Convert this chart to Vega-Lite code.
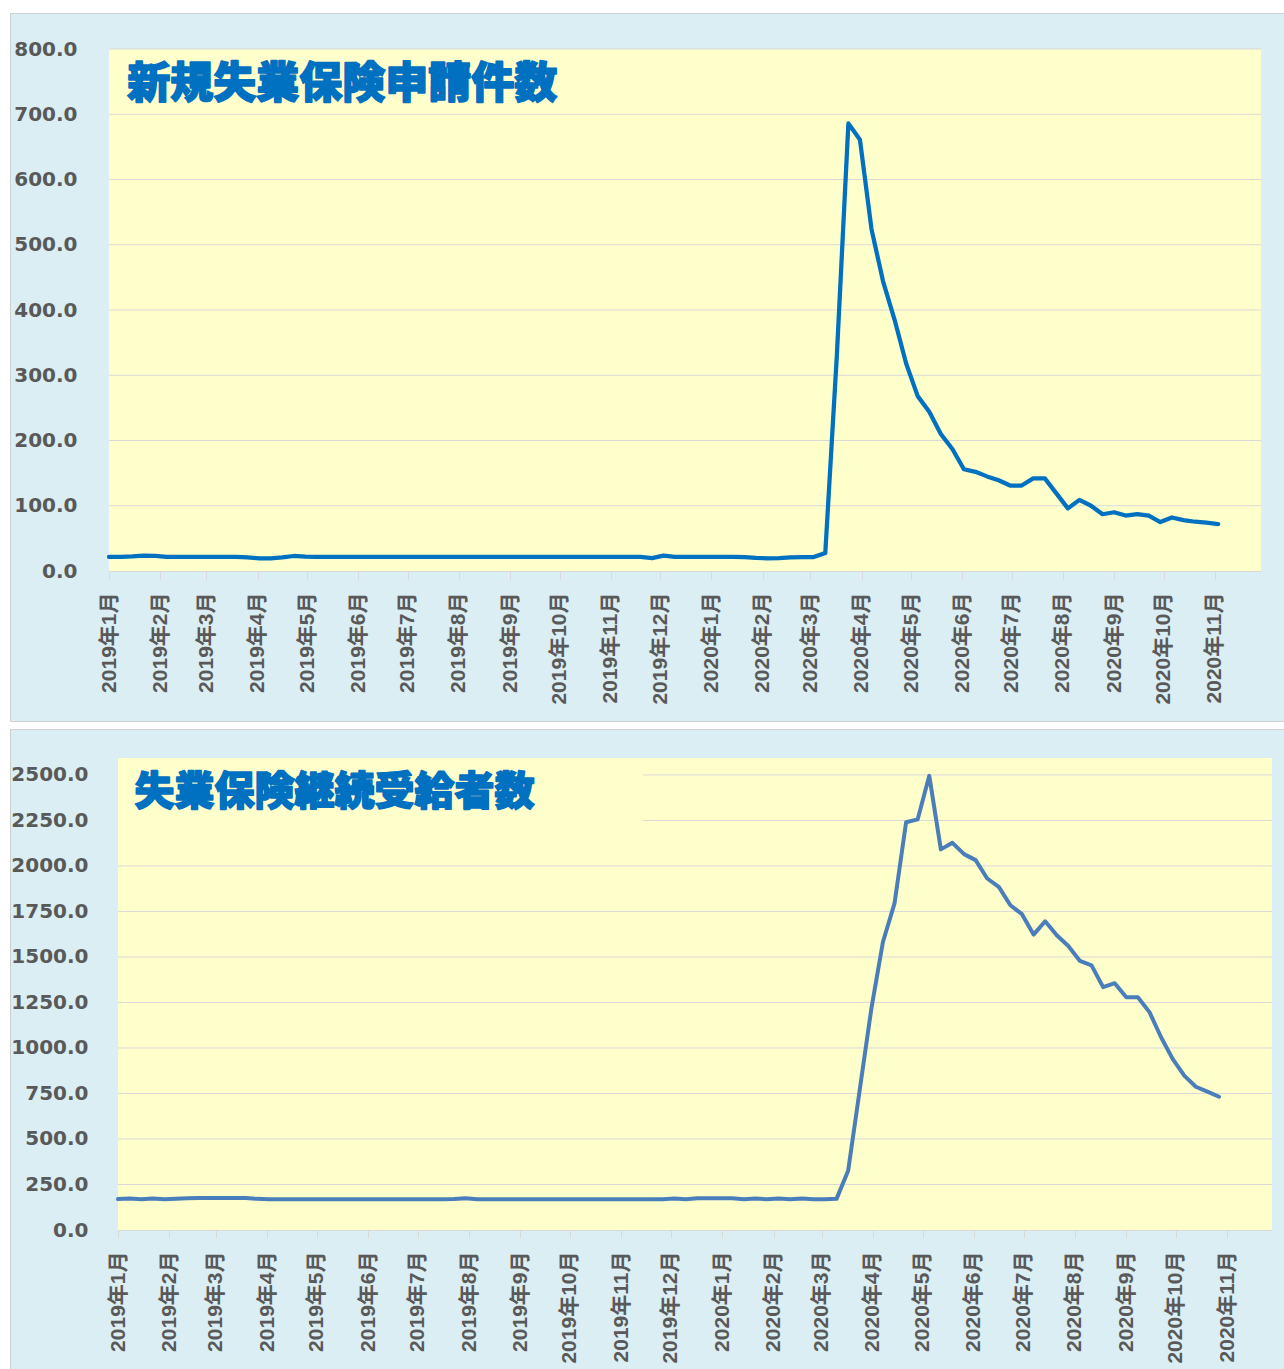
{
  "$schema": "https://vega.github.io/schema/vega-lite/v6.json",
  "background": "white",
  "padding": {"left": 9, "top": 12, "right": 0, "bottom": 0},
  "spacing": 6,
  "config": {
    "view": {"fill": "#DAEEF3", "stroke": "#CFCFCF", "strokeWidth": 1}
  },
  "vconcat": [
    {
      "width": 1275,
      "height": 708,
      "layer": [
        {"data": {"values": [{}]}, "mark": {"type": "rect", "color": "#FFFFCC"},
         "encoding": {"x": {"datum": {"year": 2019, "month": 1, "date": 5}, "type": "temporal"}, "x2": {"datum": {"year": 2020, "month": 12, "date": 3}}, "y": {"datum": 0, "type": "quantitative"}, "y2": {"datum": 800}}},
        {"data": {"values": [{}]}, "mark": {"type": "rule", "color": "#D9D9D9", "strokeWidth": 1}, "encoding": {"x": {"datum": {"year": 2019, "month": 1, "date": 5}, "type": "temporal"}, "x2": {"datum": {"year": 2020, "month": 12, "date": 3}}, "y": {"datum": 100, "type": "quantitative"}}},
        {"data": {"values": [{}]}, "mark": {"type": "rule", "color": "#D9D9D9", "strokeWidth": 1}, "encoding": {"x": {"datum": {"year": 2019, "month": 1, "date": 5}, "type": "temporal"}, "x2": {"datum": {"year": 2020, "month": 12, "date": 3}}, "y": {"datum": 200, "type": "quantitative"}}},
        {"data": {"values": [{}]}, "mark": {"type": "rule", "color": "#D9D9D9", "strokeWidth": 1}, "encoding": {"x": {"datum": {"year": 2019, "month": 1, "date": 5}, "type": "temporal"}, "x2": {"datum": {"year": 2020, "month": 12, "date": 3}}, "y": {"datum": 300, "type": "quantitative"}}},
        {"data": {"values": [{}]}, "mark": {"type": "rule", "color": "#D9D9D9", "strokeWidth": 1}, "encoding": {"x": {"datum": {"year": 2019, "month": 1, "date": 5}, "type": "temporal"}, "x2": {"datum": {"year": 2020, "month": 12, "date": 3}}, "y": {"datum": 400, "type": "quantitative"}}},
        {"data": {"values": [{}]}, "mark": {"type": "rule", "color": "#D9D9D9", "strokeWidth": 1}, "encoding": {"x": {"datum": {"year": 2019, "month": 1, "date": 5}, "type": "temporal"}, "x2": {"datum": {"year": 2020, "month": 12, "date": 3}}, "y": {"datum": 500, "type": "quantitative"}}},
        {"data": {"values": [{}]}, "mark": {"type": "rule", "color": "#D9D9D9", "strokeWidth": 1}, "encoding": {"x": {"datum": {"year": 2019, "month": 1, "date": 5}, "type": "temporal"}, "x2": {"datum": {"year": 2020, "month": 12, "date": 3}}, "y": {"datum": 600, "type": "quantitative"}}},
        {"data": {"values": [{}]}, "mark": {"type": "rule", "color": "#D9D9D9", "strokeWidth": 1}, "encoding": {"x": {"datum": {"year": 2019, "month": 1, "date": 5}, "type": "temporal"}, "x2": {"datum": {"year": 2020, "month": 12, "date": 3}}, "y": {"datum": 700, "type": "quantitative"}}},
        {"data": {"values": [{}]}, "mark": {"type": "rule", "color": "#D9D9D9", "strokeWidth": 1}, "encoding": {"x": {"datum": {"year": 2019, "month": 1, "date": 5}, "type": "temporal"}, "x2": {"datum": {"year": 2020, "month": 12, "date": 3}}, "y": {"datum": 800, "type": "quantitative"}}},
        {
          "data": {
            "format": {"parse": {"date": "date:'%Y-%m-%d'"}},
            "values": [
              {"date": "2019-01-05", "value": 21.5}, {"date": "2019-01-12", "value": 21.5}, {"date": "2019-01-19", "value": 22.3}, {"date": "2019-01-26", "value": 23.5},
              {"date": "2019-02-02", "value": 23.2}, {"date": "2019-02-09", "value": 21.8}, {"date": "2019-02-16", "value": 21.5}, {"date": "2019-02-23", "value": 21.5},
              {"date": "2019-03-02", "value": 21.5}, {"date": "2019-03-09", "value": 21.5}, {"date": "2019-03-16", "value": 21.5}, {"date": "2019-03-23", "value": 21.5}, {"date": "2019-03-30", "value": 20.8},
              {"date": "2019-04-06", "value": 19.5}, {"date": "2019-04-13", "value": 19.5}, {"date": "2019-04-20", "value": 21.0}, {"date": "2019-04-27", "value": 23.0},
              {"date": "2019-05-04", "value": 22.0}, {"date": "2019-05-11", "value": 21.5}, {"date": "2019-05-18", "value": 21.5}, {"date": "2019-05-25", "value": 21.5},
              {"date": "2019-06-01", "value": 21.5}, {"date": "2019-06-08", "value": 21.5}, {"date": "2019-06-15", "value": 21.5}, {"date": "2019-06-22", "value": 21.5}, {"date": "2019-06-29", "value": 21.5},
              {"date": "2019-07-06", "value": 21.5}, {"date": "2019-07-13", "value": 21.5}, {"date": "2019-07-20", "value": 21.5}, {"date": "2019-07-27", "value": 21.5},
              {"date": "2019-08-03", "value": 21.5}, {"date": "2019-08-10", "value": 21.5}, {"date": "2019-08-17", "value": 21.5}, {"date": "2019-08-24", "value": 21.5}, {"date": "2019-08-31", "value": 21.5},
              {"date": "2019-09-07", "value": 21.5}, {"date": "2019-09-14", "value": 21.5}, {"date": "2019-09-21", "value": 21.5}, {"date": "2019-09-28", "value": 21.5},
              {"date": "2019-10-05", "value": 21.5}, {"date": "2019-10-12", "value": 21.5}, {"date": "2019-10-19", "value": 21.5}, {"date": "2019-10-26", "value": 21.5},
              {"date": "2019-11-02", "value": 21.5}, {"date": "2019-11-09", "value": 21.5}, {"date": "2019-11-16", "value": 21.5}, {"date": "2019-11-23", "value": 21.5}, {"date": "2019-11-30", "value": 19.8},
              {"date": "2019-12-07", "value": 23.5}, {"date": "2019-12-14", "value": 21.8}, {"date": "2019-12-21", "value": 21.5}, {"date": "2019-12-28", "value": 21.5},
              {"date": "2020-01-04", "value": 21.5}, {"date": "2020-01-11", "value": 21.5}, {"date": "2020-01-18", "value": 21.5}, {"date": "2020-01-25", "value": 21.3},
              {"date": "2020-02-01", "value": 20.0}, {"date": "2020-02-08", "value": 19.5}, {"date": "2020-02-15", "value": 19.7}, {"date": "2020-02-22", "value": 20.8}, {"date": "2020-02-29", "value": 21.2},
              {"date": "2020-03-07", "value": 21.3}, {"date": "2020-03-14", "value": 27.5}, {"date": "2020-03-21", "value": 330}, {"date": "2020-03-28", "value": 686},
              {"date": "2020-04-04", "value": 661}, {"date": "2020-04-11", "value": 524}, {"date": "2020-04-18", "value": 444}, {"date": "2020-04-25", "value": 385},
              {"date": "2020-05-02", "value": 318}, {"date": "2020-05-09", "value": 268}, {"date": "2020-05-16", "value": 244}, {"date": "2020-05-23", "value": 210}, {"date": "2020-05-30", "value": 187},
              {"date": "2020-06-06", "value": 156}, {"date": "2020-06-13", "value": 152}, {"date": "2020-06-20", "value": 145}, {"date": "2020-06-27", "value": 139},
              {"date": "2020-07-04", "value": 131}, {"date": "2020-07-11", "value": 131}, {"date": "2020-07-18", "value": 142}, {"date": "2020-07-25", "value": 142},
              {"date": "2020-08-01", "value": 119}, {"date": "2020-08-08", "value": 96}, {"date": "2020-08-15", "value": 109}, {"date": "2020-08-22", "value": 100}, {"date": "2020-08-29", "value": 87},
              {"date": "2020-09-05", "value": 90}, {"date": "2020-09-12", "value": 85}, {"date": "2020-09-19", "value": 87}, {"date": "2020-09-26", "value": 85},
              {"date": "2020-10-03", "value": 75}, {"date": "2020-10-10", "value": 82}, {"date": "2020-10-17", "value": 78}, {"date": "2020-10-24", "value": 75.5}, {"date": "2020-10-31", "value": 74},
              {"date": "2020-11-07", "value": 72}
            ]
          },
          "mark": {"type": "line", "color": "#0070C0", "strokeWidth": 4.25, "strokeJoin": "round", "strokeCap": "round"},
          "encoding": {
            "x": {
              "field": "date", "type": "temporal",
              "scale": {"domain": [{"year": 2019, "month": 1, "date": 5}, {"year": 2020, "month": 12, "date": 3}], "range": [99, 1251], "nice": false},
              "axis": {
                "title": null, "orient": "bottom", "offset": -150, "zindex": 1, "grid": false,
                "values": [
                  {"year": 2019, "month": 1, "date": 5}, {"year": 2019, "month": 2, "date": 5}, {"year": 2019, "month": 3, "date": 5}, {"year": 2019, "month": 4, "date": 5},
                  {"year": 2019, "month": 5, "date": 5}, {"year": 2019, "month": 6, "date": 5}, {"year": 2019, "month": 7, "date": 5}, {"year": 2019, "month": 8, "date": 5},
                  {"year": 2019, "month": 9, "date": 5}, {"year": 2019, "month": 10, "date": 5}, {"year": 2019, "month": 11, "date": 5}, {"year": 2019, "month": 12, "date": 5},
                  {"year": 2020, "month": 1, "date": 5}, {"year": 2020, "month": 2, "date": 5}, {"year": 2020, "month": 3, "date": 5}, {"year": 2020, "month": 4, "date": 5},
                  {"year": 2020, "month": 5, "date": 5}, {"year": 2020, "month": 6, "date": 5}, {"year": 2020, "month": 7, "date": 5}, {"year": 2020, "month": 8, "date": 5},
                  {"year": 2020, "month": 9, "date": 5}, {"year": 2020, "month": 10, "date": 5}, {"year": 2020, "month": 11, "date": 5}
                ],
                "format": "%Y年%-m月", "formatType": "time",
                "labelAngle": -90, "labelFont": "Liberation Sans, Noto Sans CJK JP", "labelFontSize": 21, "labelFontWeight": "bold",
                "labelColor": "#595959", "labelPadding": 13, "labelFlush": false, "labelOverlap": false, "labelBound": false,
                "ticks": true, "tickSize": 8, "tickColor": "#D9D9D9", "domain": true, "domainColor": "#D9D9D9", "domainWidth": 1
              }
            },
            "y": {
              "field": "value", "type": "quantitative",
              "scale": {"domain": [0, 800], "range": [558, 36], "nice": false, "zero": false},
              "axis": {
                "title": null, "orient": "left", "offset": -99, "grid": false, "domain": false, "ticks": false, "tickSize": 0,
                "values": [0, 100, 200, 300, 400, 500, 600, 700, 800], "format": ".1f",
                "labelFont": "DejaVu Sans", "labelFontSize": 20, "labelFontWeight": "bold", "labelColor": "#595959",
                "labelPadding": 32, "labelFlush": false, "labelOverlap": false, "labelBound": false
              }
            }
          }
        },
        {"data": {"values": [{}]},
         "mark": {"type": "text", "text": "新規失業保険申請件数", "align": "left", "baseline": "middle", "font": "Noto Sans CJK JP", "fontSize": 43, "fontWeight": 900, "color": "#0070C0", "stroke": "#0070C0", "strokeWidth": 1.6, "strokeJoin": "round"},
         "encoding": {"x": {"datum": {"year": 2019, "month": 1, "date": 16}, "type": "temporal"}, "y": {"datum": 745, "type": "quantitative"}}}
      ]
    },
    {
      "width": 1275,
      "height": 641,
      "layer": [
        {"data": {"values": [{}]}, "mark": {"type": "rect", "color": "#FFFFCC"},
         "encoding": {"x": {"datum": {"year": 2019, "month": 1, "date": 5}, "type": "temporal"}, "x2": {"datum": {"year": 2020, "month": 12, "date": 2}}, "y": {"datum": 0, "type": "quantitative"}, "y2": {"datum": 2593}}},
        {"data": {"values": [{}]}, "mark": {"type": "rule", "color": "#D9D9D9", "strokeWidth": 1}, "encoding": {"x": {"datum": {"year": 2019, "month": 1, "date": 5}, "type": "temporal"}, "x2": {"datum": {"year": 2020, "month": 12, "date": 2}}, "y": {"datum": 250, "type": "quantitative"}}},
        {"data": {"values": [{}]}, "mark": {"type": "rule", "color": "#D9D9D9", "strokeWidth": 1}, "encoding": {"x": {"datum": {"year": 2019, "month": 1, "date": 5}, "type": "temporal"}, "x2": {"datum": {"year": 2020, "month": 12, "date": 2}}, "y": {"datum": 500, "type": "quantitative"}}},
        {"data": {"values": [{}]}, "mark": {"type": "rule", "color": "#D9D9D9", "strokeWidth": 1}, "encoding": {"x": {"datum": {"year": 2019, "month": 1, "date": 5}, "type": "temporal"}, "x2": {"datum": {"year": 2020, "month": 12, "date": 2}}, "y": {"datum": 750, "type": "quantitative"}}},
        {"data": {"values": [{}]}, "mark": {"type": "rule", "color": "#D9D9D9", "strokeWidth": 1}, "encoding": {"x": {"datum": {"year": 2019, "month": 1, "date": 5}, "type": "temporal"}, "x2": {"datum": {"year": 2020, "month": 12, "date": 2}}, "y": {"datum": 1000, "type": "quantitative"}}},
        {"data": {"values": [{}]}, "mark": {"type": "rule", "color": "#D9D9D9", "strokeWidth": 1}, "encoding": {"x": {"datum": {"year": 2019, "month": 1, "date": 5}, "type": "temporal"}, "x2": {"datum": {"year": 2020, "month": 12, "date": 2}}, "y": {"datum": 1250, "type": "quantitative"}}},
        {"data": {"values": [{}]}, "mark": {"type": "rule", "color": "#D9D9D9", "strokeWidth": 1}, "encoding": {"x": {"datum": {"year": 2019, "month": 1, "date": 5}, "type": "temporal"}, "x2": {"datum": {"year": 2020, "month": 12, "date": 2}}, "y": {"datum": 1500, "type": "quantitative"}}},
        {"data": {"values": [{}]}, "mark": {"type": "rule", "color": "#D9D9D9", "strokeWidth": 1}, "encoding": {"x": {"datum": {"year": 2019, "month": 1, "date": 5}, "type": "temporal"}, "x2": {"datum": {"year": 2020, "month": 12, "date": 2}}, "y": {"datum": 1750, "type": "quantitative"}}},
        {"data": {"values": [{}]}, "mark": {"type": "rule", "color": "#D9D9D9", "strokeWidth": 1}, "encoding": {"x": {"datum": {"year": 2019, "month": 1, "date": 5}, "type": "temporal"}, "x2": {"datum": {"year": 2020, "month": 12, "date": 2}}, "y": {"datum": 2000, "type": "quantitative"}}},
        {"data": {"values": [{}]}, "mark": {"type": "rule", "color": "#D9D9D9", "strokeWidth": 1}, "encoding": {"x": {"datum": {"year": 2019, "month": 1, "date": 5}, "type": "temporal"}, "x2": {"datum": {"year": 2020, "month": 12, "date": 2}}, "y": {"datum": 2250, "type": "quantitative"}}},
        {"data": {"values": [{}]}, "mark": {"type": "rule", "color": "#D9D9D9", "strokeWidth": 1}, "encoding": {"x": {"datum": {"year": 2019, "month": 1, "date": 5}, "type": "temporal"}, "x2": {"datum": {"year": 2020, "month": 12, "date": 2}}, "y": {"datum": 2500, "type": "quantitative"}}},
        {"data": {"values": [{}]}, "mark": {"type": "rect", "color": "#FFFFCC"},
         "encoding": {"x": {"datum": {"year": 2019, "month": 1, "date": 5}, "type": "temporal"}, "x2": {"datum": {"year": 2019, "month": 11, "date": 18}}, "y": {"datum": 2170, "type": "quantitative"}, "y2": {"datum": 2593}}},
        {
          "data": {
            "format": {"parse": {"date": "date:'%Y-%m-%d'"}},
            "values": [
              {"date": "2019-01-05", "value": 170}, {"date": "2019-01-12", "value": 173}, {"date": "2019-01-19", "value": 169}, {"date": "2019-01-26", "value": 173},
              {"date": "2019-02-02", "value": 169}, {"date": "2019-02-09", "value": 172}, {"date": "2019-02-16", "value": 175}, {"date": "2019-02-23", "value": 176},
              {"date": "2019-03-02", "value": 176}, {"date": "2019-03-09", "value": 176}, {"date": "2019-03-16", "value": 176}, {"date": "2019-03-23", "value": 176}, {"date": "2019-03-30", "value": 171},
              {"date": "2019-04-06", "value": 169}, {"date": "2019-04-13", "value": 169}, {"date": "2019-04-20", "value": 169}, {"date": "2019-04-27", "value": 169},
              {"date": "2019-05-04", "value": 169}, {"date": "2019-05-11", "value": 169}, {"date": "2019-05-18", "value": 169}, {"date": "2019-05-25", "value": 169},
              {"date": "2019-06-01", "value": 169}, {"date": "2019-06-08", "value": 169}, {"date": "2019-06-15", "value": 169}, {"date": "2019-06-22", "value": 169}, {"date": "2019-06-29", "value": 169},
              {"date": "2019-07-06", "value": 169}, {"date": "2019-07-13", "value": 169}, {"date": "2019-07-20", "value": 169}, {"date": "2019-07-27", "value": 170},
              {"date": "2019-08-03", "value": 174}, {"date": "2019-08-10", "value": 169}, {"date": "2019-08-17", "value": 169}, {"date": "2019-08-24", "value": 169}, {"date": "2019-08-31", "value": 169},
              {"date": "2019-09-07", "value": 169}, {"date": "2019-09-14", "value": 169}, {"date": "2019-09-21", "value": 169}, {"date": "2019-09-28", "value": 169},
              {"date": "2019-10-05", "value": 169}, {"date": "2019-10-12", "value": 169}, {"date": "2019-10-19", "value": 169}, {"date": "2019-10-26", "value": 169},
              {"date": "2019-11-02", "value": 169}, {"date": "2019-11-09", "value": 169}, {"date": "2019-11-16", "value": 169}, {"date": "2019-11-23", "value": 169}, {"date": "2019-11-30", "value": 169},
              {"date": "2019-12-07", "value": 173}, {"date": "2019-12-14", "value": 169}, {"date": "2019-12-21", "value": 175}, {"date": "2019-12-28", "value": 175},
              {"date": "2020-01-04", "value": 175}, {"date": "2020-01-11", "value": 175}, {"date": "2020-01-18", "value": 169}, {"date": "2020-01-25", "value": 173},
              {"date": "2020-02-01", "value": 169}, {"date": "2020-02-08", "value": 173}, {"date": "2020-02-15", "value": 169}, {"date": "2020-02-22", "value": 173}, {"date": "2020-02-29", "value": 169},
              {"date": "2020-03-07", "value": 169}, {"date": "2020-03-14", "value": 171}, {"date": "2020-03-21", "value": 325}, {"date": "2020-03-28", "value": 770},
              {"date": "2020-04-04", "value": 1215}, {"date": "2020-04-11", "value": 1582}, {"date": "2020-04-18", "value": 1794}, {"date": "2020-04-25", "value": 2240},
              {"date": "2020-05-02", "value": 2256}, {"date": "2020-05-09", "value": 2495}, {"date": "2020-05-16", "value": 2091}, {"date": "2020-05-23", "value": 2127}, {"date": "2020-05-30", "value": 2065},
              {"date": "2020-06-06", "value": 2032}, {"date": "2020-06-13", "value": 1931}, {"date": "2020-06-20", "value": 1885}, {"date": "2020-06-27", "value": 1784},
              {"date": "2020-07-04", "value": 1735}, {"date": "2020-07-11", "value": 1623}, {"date": "2020-07-18", "value": 1696}, {"date": "2020-07-25", "value": 1619},
              {"date": "2020-08-01", "value": 1560}, {"date": "2020-08-08", "value": 1478}, {"date": "2020-08-15", "value": 1454}, {"date": "2020-08-22", "value": 1334}, {"date": "2020-08-29", "value": 1356},
              {"date": "2020-09-05", "value": 1279}, {"date": "2020-09-12", "value": 1279}, {"date": "2020-09-19", "value": 1197}, {"date": "2020-09-26", "value": 1059},
              {"date": "2020-10-03", "value": 940}, {"date": "2020-10-10", "value": 848}, {"date": "2020-10-17", "value": 787}, {"date": "2020-10-24", "value": 760}, {"date": "2020-10-31", "value": 732}
            ]
          },
          "mark": {"type": "line", "color": "#4A7EBB", "strokeWidth": 4, "strokeJoin": "round", "strokeCap": "round"},
          "encoding": {
            "x": {
              "field": "date", "type": "temporal",
              "scale": {"domain": [{"year": 2019, "month": 1, "date": 5}, {"year": 2020, "month": 12, "date": 2}], "range": [108, 1262], "nice": false},
              "axis": {
                "title": null, "orient": "bottom", "offset": -140, "zindex": 1, "grid": false,
                "values": [
                  {"year": 2019, "month": 1, "date": 5}, {"year": 2019, "month": 2, "date": 5}, {"year": 2019, "month": 3, "date": 5}, {"year": 2019, "month": 4, "date": 5},
                  {"year": 2019, "month": 5, "date": 5}, {"year": 2019, "month": 6, "date": 5}, {"year": 2019, "month": 7, "date": 5}, {"year": 2019, "month": 8, "date": 5},
                  {"year": 2019, "month": 9, "date": 5}, {"year": 2019, "month": 10, "date": 5}, {"year": 2019, "month": 11, "date": 5}, {"year": 2019, "month": 12, "date": 5},
                  {"year": 2020, "month": 1, "date": 5}, {"year": 2020, "month": 2, "date": 5}, {"year": 2020, "month": 3, "date": 5}, {"year": 2020, "month": 4, "date": 5},
                  {"year": 2020, "month": 5, "date": 5}, {"year": 2020, "month": 6, "date": 5}, {"year": 2020, "month": 7, "date": 5}, {"year": 2020, "month": 8, "date": 5},
                  {"year": 2020, "month": 9, "date": 5}, {"year": 2020, "month": 10, "date": 5}, {"year": 2020, "month": 11, "date": 5}
                ],
                "format": "%Y年%-m月", "formatType": "time",
                "labelAngle": -90, "labelFont": "Liberation Sans, Noto Sans CJK JP", "labelFontSize": 21, "labelFontWeight": "bold",
                "labelColor": "#595959", "labelPadding": 13, "labelFlush": false, "labelOverlap": false, "labelBound": false,
                "ticks": true, "tickSize": 8, "tickColor": "#D9D9D9", "domain": true, "domainColor": "#D9D9D9", "domainWidth": 1
              }
            },
            "y": {
              "field": "value", "type": "quantitative",
              "scale": {"domain": [0, 2593], "range": [501, 29], "nice": false, "zero": false},
              "axis": {
                "title": null, "orient": "left", "offset": -108, "grid": false, "domain": false, "ticks": false, "tickSize": 0,
                "values": [0, 250, 500, 750, 1000, 1250, 1500, 1750, 2000, 2250, 2500], "format": ".1f",
                "labelFont": "DejaVu Sans", "labelFontSize": 20, "labelFontWeight": "bold", "labelColor": "#595959",
                "labelPadding": 30, "labelFlush": false, "labelOverlap": false, "labelBound": false
              }
            }
          }
        },
        {"data": {"values": [{}]},
         "mark": {"type": "text", "text": "失業保険継続受給者数", "align": "left", "baseline": "middle", "font": "Noto Sans CJK JP", "fontSize": 40, "fontWeight": 900, "color": "#0070C0", "stroke": "#0070C0", "strokeWidth": 1.6, "strokeJoin": "round"},
         "encoding": {"x": {"datum": {"year": 2019, "month": 1, "date": 15}, "type": "temporal"}, "y": {"datum": 2401, "type": "quantitative"}}}
      ]
    }
  ]
}
